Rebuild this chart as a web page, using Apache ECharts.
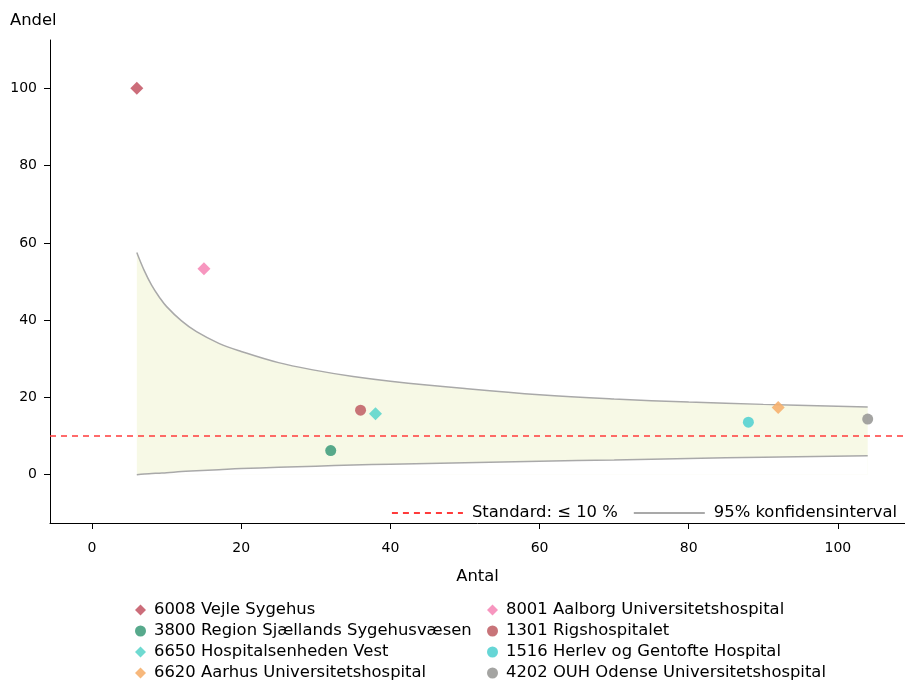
<!DOCTYPE html>
<html>
<head>
<meta charset="utf-8">
<script src="https://cdn.jsdelivr.net/npm/echarts@6/dist/echarts.min.js"></script>
<style>
  html, body { margin: 0; padding: 0; background: #fff; }
  #chart { width: 905px; height: 680px; }
</style>
</head>
<body>
<div id="chart"></div>
<script>
// Hospitals: number of cases (Antal) and share in percent (Andel)
const hospitals = [
  '6008 Vejle Sygehus',
  '8001 Aalborg Universitetshospital',
  '3800 Region Sjællands Sygehusvæsen',
  '1301 Rigshospitalet',
  '6650 Hospitalsenheden Vest',
  '1516 Herlev og Gentofte Hospital',
  '6620 Aarhus Universitetshospital',
  '4202 OUH Odense Universitetshospital'
];
const antal = [6, 15, 32, 36, 38, 88, 92, 104];
const andel = [100, 53.3, 6.25, 16.7, 15.8, 13.6, 17.4, 14.4];
const symbols = ['diamond', 'diamond', 'circle', 'circle', 'diamond', 'circle', 'diamond', 'circle'];
const colors = ['#c75d6b', '#f68bb8', '#45a07f', '#c2656a', '#5fd6cc', '#55d2d2', '#f6b06e', '#9a9a98'];

// 95% confidence band around the standard
const ciAntal = [6, 7, 8, 9, 10, 12, 14, 17, 20, 25, 30, 35, 40, 50, 60, 70, 80, 90, 104];
const ciUpper = [57.5, 52.8, 49.0, 46.0, 43.5, 39.8, 37.0, 34.0, 31.9, 29.0, 27.0, 25.4, 24.2, 22.3, 20.7, 19.6, 18.8, 18.2, 17.5];
const ciLower = [0, 0.2, 0.3, 0.4, 0.5, 0.8, 1.0, 1.3, 1.6, 1.9, 2.2, 2.5, 2.7, 3.1, 3.5, 3.8, 4.2, 4.5, 4.9];

const standard = 10;
const xTicks = [0, 20, 40, 60, 80, 100];
const yTicks = [0, 20, 40, 60, 80, 100];

const FONT = 'DejaVu Sans';
const CI_NAME = '95% konfidensinterval';
const STD_NAME = 'Standard: \u2264 10 %';
const BAND_FILL = '#f7f9e6';
const CI_LINE = '#a9a9a9';
const STD_COLOR = '#ff3b3b';
const TEXT_SIZE = 16.4;

const chart = echarts.init(document.getElementById('chart'), null, { renderer: 'canvas' });

const pointSeries = hospitals.map((name, i) => ({
  name: name,
  type: 'scatter',
  symbol: symbols[i],
  symbolSize: symbols[i] === 'diamond' ? 13 : 11,
  itemStyle: { color: colors[i], opacity: 0.9 },
  z: 5,
  data: [[antal[i], andel[i]]]
}));

const hospitalLegend = (names, left) => ({
  data: names,
  orient: 'vertical',
  left: left,
  top: 597,
  height: 120,
  itemWidth: 11,
  itemHeight: 11,
  itemGap: 5,
  selectedMode: false,
  textStyle: { fontFamily: FONT, fontSize: TEXT_SIZE, color: '#000', padding: [0, 0, 0, 3] }
});

const option = {
  animation: false,
  textStyle: { fontFamily: FONT, color: '#000' },
  title: {
    text: 'Andel',
    left: 5,
    top: 8,
    textStyle: { fontFamily: FONT, fontSize: TEXT_SIZE, fontWeight: 'normal', color: '#000' }
  },
  grid: { left: 50, right: 0, top: 40, bottom: 157, containLabel: false },
  xAxis: {
    type: 'value',
    min: -5.64,
    max: 109,
    name: 'Antal',
    nameLocation: 'middle',
    nameGap: 46,
    nameTextStyle: { fontFamily: FONT, fontSize: TEXT_SIZE, color: '#000' },
    splitLine: { show: false },
    axisLine: { show: true, onZero: false, lineStyle: { color: '#000', width: 1 } },
    axisTick: { show: true, length: 6, customValues: xTicks, lineStyle: { color: '#000' } },
    axisLabel: { customValues: xTicks, margin: 18, fontSize: 14, color: '#000', fontFamily: FONT }
  },
  yAxis: {
    type: 'value',
    min: -12.5,
    max: 112.5,
    splitLine: { show: false },
    axisLine: { show: true, onZero: false, lineStyle: { color: '#000', width: 1 } },
    axisTick: { show: true, length: 6, customValues: yTicks, lineStyle: { color: '#000' } },
    axisLabel: { customValues: yTicks, margin: 13, fontSize: 14, color: '#000', fontFamily: FONT }
  },
  legend: [
    {
      data: [STD_NAME, CI_NAME],
      orient: 'horizontal',
      right: 3,
      top: 500,
      itemWidth: 71,
      itemHeight: 14,
      itemGap: 15,
      selectedMode: false,
      itemStyle: { opacity: 0 },
      textStyle: { fontFamily: FONT, fontSize: TEXT_SIZE, color: '#000', padding: [0, 0, 0, 4] }
    },
    hospitalLegend([hospitals[0], hospitals[2], hospitals[4], hospitals[6]], 130),
    hospitalLegend([hospitals[1], hospitals[3], hospitals[5], hospitals[7]], 482)
  ],
  series: [
    {
      // upper bound, filled down to zero
      name: CI_NAME,
      type: 'line',
      smooth: 0.4,
      symbol: 'none',
      lineStyle: { color: CI_LINE, width: 1.5 },
      itemStyle: { color: CI_LINE },
      areaStyle: { color: BAND_FILL, opacity: 1, origin: 0 },
      z: 2,
      silent: true,
      data: ciAntal.map((n, i) => [n, ciUpper[i]])
    },
    {
      // lower bound; the area below it is cleared back to the background
      name: CI_NAME,
      type: 'line',
      smooth: 0.4,
      symbol: 'none',
      lineStyle: { color: CI_LINE, width: 1.5 },
      itemStyle: { color: CI_LINE },
      areaStyle: { color: '#ffffff', opacity: 1, origin: 0 },
      z: 2,
      silent: true,
      data: ciAntal.map((n, i) => [n, ciLower[i]])
    },
    {
      name: STD_NAME,
      type: 'line',
      symbol: 'none',
      lineStyle: { color: STD_COLOR, width: 1.5, type: [6, 5] },
      itemStyle: { color: STD_COLOR },
      data: [],
      z: 3,
      markLine: {
        silent: true,
        symbol: 'none',
        label: { show: false },
        lineStyle: { color: STD_COLOR, width: 1.5, type: [6, 5] },
        data: [{ yAxis: standard }]
      }
    },
    ...pointSeries
  ]
};

chart.setOption(option);
</script>
</body>
</html>
